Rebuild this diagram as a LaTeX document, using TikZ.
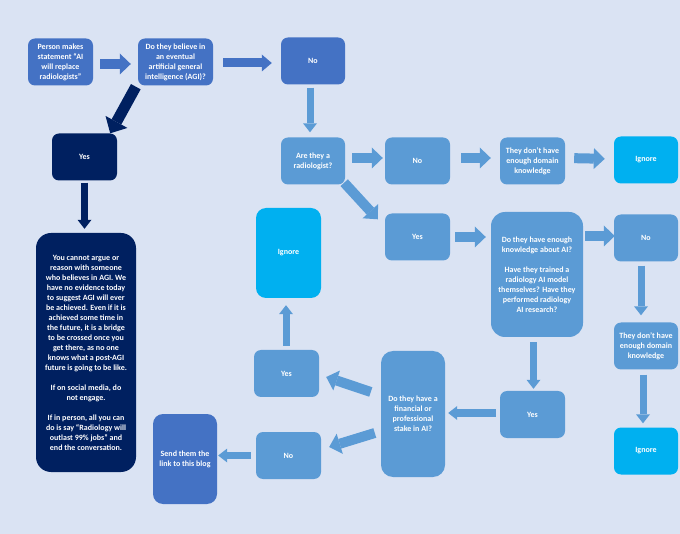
\documentclass[tikz,border=0pt]{standalone}
\usepackage{fontspec}
\setmainfont{Carlito}
\usetikzlibrary{arrows.meta}
\definecolor{bgblue}{RGB}{218,227,243}
\definecolor{midblue}{RGB}{68,114,196}
\definecolor{navy}{RGB}{0,32,96}
\definecolor{paleblue}{RGB}{91,155,213}
\definecolor{skyblue}{RGB}{0,176,240}
\tikzset{
	box/.style={fill=#1, rounded corners=7pt, text=white, align=center, inner sep=2pt,
		font=\bfseries\fontsize{8}{10}\selectfont, minimum width=65pt, minimum height=47pt},
	box/.default=paleblue,
	fatarrow/.style={draw=#1, line width=10pt, -{Triangle[width=21pt,length=11pt,line width=0pt]}},
	fatarrow/.default=paleblue,
	midarrow/.style={draw=#1, line width=9pt, -{Triangle[width=17pt,length=10pt,line width=0pt]}},
	midarrow/.default=midblue,
	slimarrow/.style={draw=#1, line width=7pt, -{Triangle[width=14pt,length=9pt,line width=0pt]}},
	slimarrow/.default=paleblue,
	heavyarrow/.style={draw=#1, line width=11pt, -{Triangle[width=25pt,length=13pt,line width=0pt]}},
	heavyarrow/.default=navy,
}
\begin{document}
\begin{tikzpicture}[x=1pt,y=-1pt]
	\fill[bgblue] (0,0) rectangle (680,534);
	\useasboundingbox (0,0) rectangle (680,534);
	% top row
	\node[box=midblue] (start) at (60.5,62) {Person makes\\statement “AI\\will replace\\radiologists”};
	\node[box=midblue, minimum width=75pt] (agi) at (175.5,62) {Do they believe in\\an eventual\\artificial general\\intelligence (AGI)?};
	\node[box=midblue, minimum width=64pt] (notop) at (313,61) {No};
	% AGI believers
	\node[box=navy] (yesagi) at (84.5,157) {Yes};
	\node[box=navy, rounded corners=15pt, minimum width=100pt, minimum height=239pt] (agitext) at (86,352.5)
		{You cannot argue or\\reason with someone\\who believes in AGI. We\\have no evidence today\\to suggest AGI will ever\\be achieved. Even if it is\\achieved some time in\\the future, it is a bridge\\to be crossed once you\\get there, as no one\\knows what a post-AGI\\future is going to be like.\\[10pt]If on social media, do\\not engage.\\[10pt]If in person, all you can\\do is say “Radiology will\\outlast 99\% jobs” and\\end the conversation.};
	% radiologist row
	\node[box, minimum width=64pt] (radio) at (313,161) {Are they a\\radiologist?};
	\node[box] (noradio) at (417.5,161) {No};
	\node[box] (lackA) at (532.5,161) {They don’t have\\enough domain\\knowledge};
	\node[box=skyblue, minimum width=64pt] (ignoreA) at (646,160) {Ignore};
	% AI knowledge
	\node[box] (yesradio) at (417.5,237) {Yes};
	\node[box, rounded corners=14pt, minimum width=92pt, minimum height=125pt] (aiq) at (537,274.5)
		{Do they have enough\\knowledge about AI?\\[10pt]Have they trained a\\radiology AI model\\themselves? Have they\\performed radiology\\AI research?};
	\node[box, minimum width=64pt] (noai) at (646,238) {No};
	\node[box, minimum width=64pt] (lackB) at (646,346) {They don’t have\\enough domain\\knowledge};
	\node[box=skyblue, minimum width=64pt] (ignoreC) at (646,451) {Ignore};
	% stake in AI
	\node[box] (yesai) at (532.5,414.5) {Yes};
	\node[box, rounded corners=12pt, minimum width=64pt, minimum height=126pt] (stake) at (413,414) {Do they have a\\financial or\\professional\\stake in AI?};
	\node[box] (yesstake) at (286.5,373.5) {Yes};
	\node[box=skyblue, rounded corners=10pt, minimum height=90pt] (ignoreB) at (288.5,253) {Ignore};
	\node[box] (nostake) at (288.5,455.5) {No};
	\node[box=midblue, rounded corners=10pt, minimum width=64pt, minimum height=90pt] (blog) at (185,459) {Send them the\\link to this blog};
	% connectors
	\draw[fatarrow=midblue, shorten <=7pt, shorten >=7pt] ([yshift=-2pt]start.east) -- ([yshift=-2pt]agi.west);
	\draw[midarrow, shorten <=10pt, shorten >=9pt] ([yshift=-1pt]agi.east) -- ([yshift=-1pt]agi.east -| notop.west);
	\draw[heavyarrow] ([xshift=-2pt,yshift=-1pt]agi.south west) -- ([xshift=-7pt]yesagi.north east);
	\draw[slimarrow=navy, shorten <=2pt, shorten >=4pt] (yesagi.south) -- (yesagi.south |- agitext.north);
	\draw[slimarrow, shorten <=3pt, shorten >=5pt] ([xshift=-3pt]notop.south) -- ([xshift=-3pt]notop.south |- radio.north);
	\draw[fatarrow, shorten <=7pt, shorten >=2pt] ([yshift=3pt]radio.east) -- ([yshift=3pt]noradio.west);
	\draw[fatarrow, shorten <=11pt, shorten >=9pt] ([yshift=3pt]noradio.east) -- ([yshift=3pt]lackA.west);
	\draw[fatarrow, shorten <=9pt, shorten >=9pt] ([yshift=3pt]lackA.east) -- ([yshift=1pt]ignoreA.west);
	\draw[fatarrow] ([xshift=-1pt,yshift=2pt]radio.south east) -- ([xshift=-7pt,yshift=-6pt]yesradio.north west);
	\draw[fatarrow, shorten <=5pt, shorten >=5pt] (yesradio.east) -- (yesradio.east -| aiq.west);
	\draw[fatarrow, shorten <=2pt, shorten >=-1pt] ([yshift=2pt]noai.west -| aiq.east) -- ([yshift=2pt]noai.west);
	\draw[slimarrow, shorten <=4pt, shorten >=7pt] ([xshift=-5pt]noai.south) -- ([xshift=-5pt]noai.south |- lackB.north);
	\draw[slimarrow, shorten <=5pt, shorten >=4pt] ([xshift=-3pt]lackB.south) -- ([xshift=-3pt]lackB.south |- ignoreC.north);
	\draw[slimarrow, shorten <=5pt, shorten >=2pt] ([xshift=1pt]yesai.north |- aiq.south) -- ([xshift=1pt]yesai.north);
	\draw[slimarrow, shorten <=4pt, shorten >=3pt] ([yshift=1.5pt]yesai.west) -- ([yshift=1.5pt]yesai.west -| stake.east);
	\draw[fatarrow] ([xshift=-10pt,yshift=22pt]stake.west) -- ([xshift=7pt,yshift=-3.5pt]yesstake.east);
	\draw[fatarrow] ([xshift=-6pt,yshift=-19pt]stake.west) -- ([xshift=8pt,yshift=8.5pt]nostake.east);
	\draw[slimarrow, shorten <=4pt, shorten >=7pt] ([xshift=-0.5pt]yesstake.north) -- ([xshift=-0.5pt]yesstake.north |- ignoreB.south);
	\draw[slimarrow, shorten <=5pt, shorten >=1pt] (nostake.west) -- (nostake.west -| blog.east);
\end{tikzpicture}
\end{document}
